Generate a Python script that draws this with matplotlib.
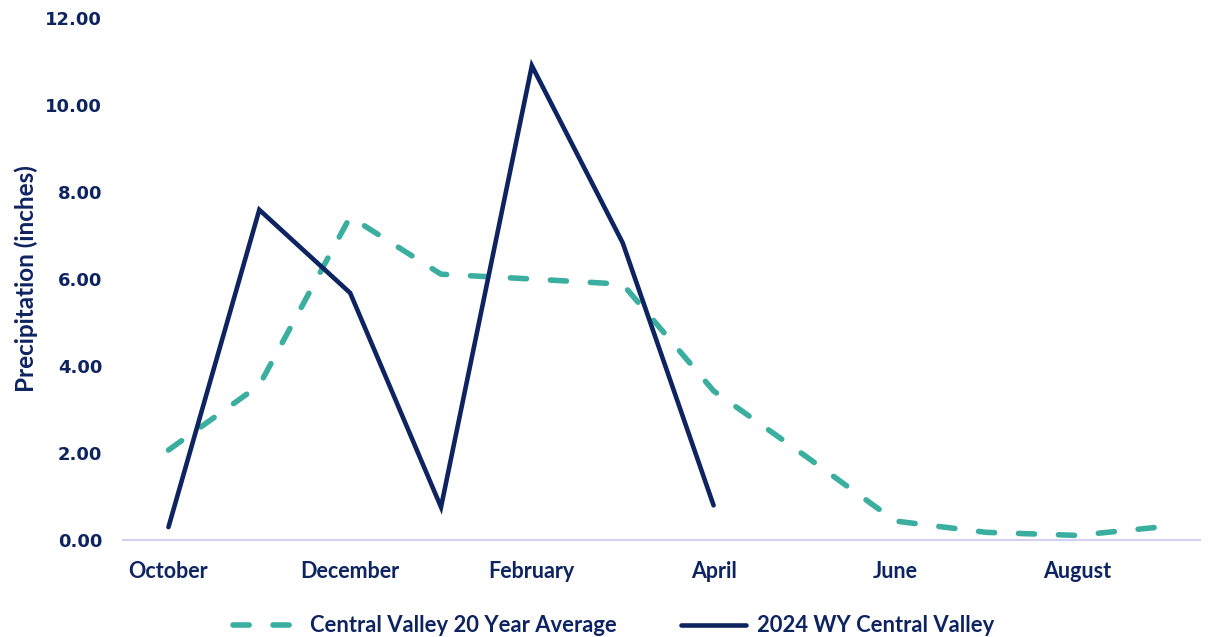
import matplotlib.pyplot as plt
import numpy as np

months = ['October', 'November', 'December', 'January', 'February', 'March',
          'April', 'May', 'June', 'July', 'August', 'September']
avg_20yr = [2.07, 3.56, 7.43, 6.11, 6.00, 5.88, 3.43, 1.95, 0.44, 0.18, 0.11, 0.32]
wy_2024 = [0.30, 7.59, 5.68, 0.76, 10.90, 6.83, 0.80]

navy = '#0E2461'
teal = '#3AAFA0'

fig = plt.figure(figsize=(12.11, 6.37), dpi=100)
ax = fig.add_axes([0.1016, 0.152, 0.889, 0.820])

x = np.arange(len(months))
ax.plot(x, avg_20yr, color=teal, lw=4.0, dashes=(2.9, 4.3),
        dash_capstyle='round', label='Central Valley 20 Year Average')
ax.plot(x[:len(wy_2024)], wy_2024, color=navy, lw=3.3,
        solid_capstyle='round', solid_joinstyle='miter',
        label='2024 WY Central Valley')

ax.set_xlim(-0.5, 11.35)
ax.set_ylim(0, 12)
ax.set_yticks(np.arange(0, 12.01, 2))
ax.set_yticklabels([f'{v:.2f}' for v in np.arange(0, 12.01, 2)],
                   fontsize=13, fontweight='bold', color=navy,
                   family='DejaVu Sans')
ax.set_xticks(x[::2])
ax.set_xticklabels(months[::2], fontsize=15.5, fontweight='bold', color=navy,
                   family='Lato')
ax.tick_params(axis='both', length=0)
ax.tick_params(axis='x', pad=15)
ax.tick_params(axis='y', pad=15)

for s in ['top', 'right', 'left']:
    ax.spines[s].set_visible(False)
ax.spines['bottom'].set_color('#D4D0F0')
ax.spines['bottom'].set_linewidth(1.5)

ax.set_ylabel('Precipitation (inches)', fontsize=17.5, fontweight='bold',
              color=navy, family='Lato', labelpad=5)

fig.legend(loc='lower center', bbox_to_anchor=(0.507, -0.03), ncol=2,
           frameon=False, handlelength=3.0, handletextpad=0.5,
           columnspacing=2.9,
           prop={'family': 'Lato', 'weight': 'bold', 'size': 15.8},
           labelcolor=navy)

fig.savefig('out.png', dpi=100)
